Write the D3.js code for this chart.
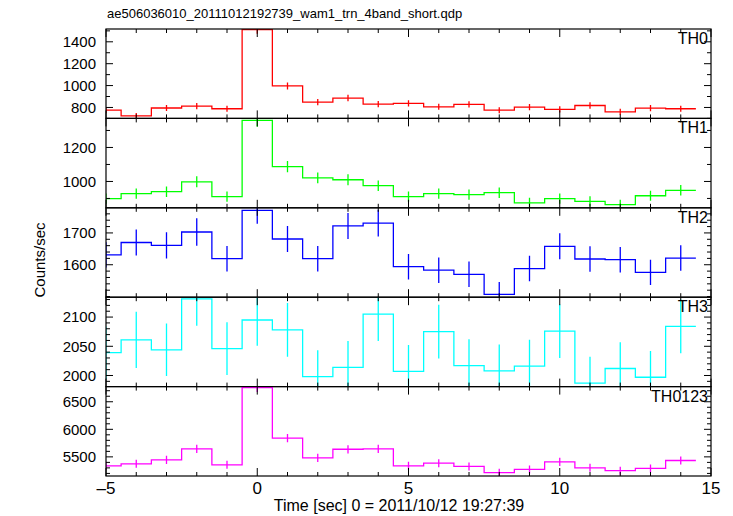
<!DOCTYPE html>
<html><head><meta charset="utf-8">
<script src="https://cdn.jsdelivr.net/npm/d3@7"></script>
<style>
body{margin:0;background:#fff}
text{font-family:"Liberation Sans",Arial,Helvetica,sans-serif;fill:#000}
</style>
</head><body>
<svg id="chart" width="733" height="516"></svg>
<script>
// ---- data ----
const title = "ae506036010_20111012192739_wam1_trn_4band_short.qdp";
const xLabel = "Time [sec] 0 = 2011/10/12 19:27:39";
const yLabel = "Counts/sec";
const timeBins = [-5,-4,-3,-2,-1,0,1,2,3,4,5,6,7,8,9,10,11,12,13,14];
const xTickLabels = [-5,0,5,10,15];

const th0 = [775,723,795,812,788,1512,997,849,886,831,837,806,828,775,803,782,818,760,794,788];
const th0Err = [28,27,28,29,28,38,32,29,30,29,29,28,29,28,28,28,29,28,28,28];
const th1 = [899,928,940,998,911,1359,1087,1021,1010,975,911,928,922,934,874,899,883,864,916,948];
const th1Err = [30,30,31,32,30,37,33,32,32,31,30,30,30,31,30,30,30,29,30,31];
const th2 = [1631,1670,1661,1703,1619,1771,1681,1619,1722,1731,1594,1583,1570,1507,1588,1658,1618,1616,1576,1621];
const th2Err = [40,41,41,43,40,42,41,40,41,42,40,40,40,39,40,41,40,40,40,40];
const th3 = [2039,2061,2044,2131,2046,2095,2078,1998,2014,2105,2007,2075,2017,2008,2016,2076,1987,2012,1997,2084];
const th3Err = [45,48,45,46,45,44,46,45,45,46,45,46,45,45,45,46,45,45,45,46];
const th0123 = [5338,5374,5446,5644,5356,6757,5841,5482,5638,5644,5338,5386,5326,5213,5272,5410,5302,5249,5290,5434];
const th0123Err = [73,73,74,75,73,82,76,74,75,75,73,73,73,72,73,74,73,72,73,74];

const panelNames = ["TH0","TH1","TH2","TH3","TH0123"];
const panelColors = ["#ff0000","#00ff00","#0000ff","#00ffff","#ff00ff"];
const panelValues = [th0, th1, th2, th3, th0123];
const panelErrors = [th0Err, th1Err, th2Err, th3Err, th0123Err];
const panelDomains = [[700,1517],[845,1371],[1498,1779],[1981,2134],[5153,6775]];
const panelMajorTicks = [[800,1000,1200,1400],[1000,1200],[1600,1700],[2000,2050,2100],[5500,6000,6500]];
const panelMinorStep = [100,100,20,10,100];

// ---- layout ----
const L = 106, R = 711, T = 29, B = 476;
const nP = panelNames.length;
const pH = (B - T) / nP;

const svg = d3.select("#chart");
const x = d3.scaleLinear().domain([-5, 15]).range([L, R]);

svg.append("text").attr("x", 107).attr("y", 18).attr("font-size", 13).text(title);

panelNames.forEach((name, i) => {
  const top = T + i * pH, bot = top + pH;
  const y = d3.scaleLinear().domain(panelDomains[i]).range([bot, top]);
  const g = svg.append("g");
  const cid = "clip" + i;
  svg.append("clipPath").attr("id", cid).append("rect")
    .attr("x", L).attr("y", top).attr("width", R - L).attr("height", pH);

  const vals = panelValues[i], errs = panelErrors[i], col = panelColors[i];
  const pts = [];
  timeBins.forEach((t, k) => { pts.push([t - 0.5, vals[k]]); pts.push([t + 0.5, vals[k]]); });
  const line = d3.line().x(d => x(d[0])).y(d => y(d[1]));
  const dg = g.append("g").attr("clip-path", `url(#${cid})`);
  dg.append("path").attr("d", line(pts)).attr("fill", "none")
    .attr("stroke", col).attr("stroke-width", 1.3);
  dg.selectAll("line.err").data(timeBins).join("line")
    .attr("x1", t => x(t)).attr("x2", t => x(t))
    .attr("y1", (t, k) => y(vals[k] - errs[k])).attr("y2", (t, k) => y(vals[k] + errs[k]))
    .attr("stroke", col).attr("stroke-width", 1.3);

  // x ticks (top & bottom, inward)
  const xt = d3.range(-5, 16, 1);
  xt.forEach(t => {
    const len = (t % 5 === 0) ? 8 : 4;
    g.append("line").attr("x1", x(t)).attr("x2", x(t)).attr("y1", bot).attr("y2", bot - len)
      .attr("stroke", "#000").attr("stroke-width", 1);
    g.append("line").attr("x1", x(t)).attr("x2", x(t)).attr("y1", top).attr("y2", top + len)
      .attr("stroke", "#000").attr("stroke-width", 1);
  });
  // y ticks
  const [d0, d1] = panelDomains[i];
  const st = panelMinorStep[i];
  const minor = d3.range(Math.ceil(d0 / st) * st, d1 + 0.001, st);
  const major = panelMajorTicks[i];
  minor.forEach(v => {
    const len = major.includes(v) ? 7 : 4;
    g.append("line").attr("x1", L).attr("x2", L + len).attr("y1", y(v)).attr("y2", y(v))
      .attr("stroke", "#000").attr("stroke-width", 1);
    g.append("line").attr("x1", R).attr("x2", R - len).attr("y1", y(v)).attr("y2", y(v))
      .attr("stroke", "#000").attr("stroke-width", 1);
  });
  major.forEach(v => {
    g.append("text").attr("x", 96).attr("y", y(v)).attr("dy", "0.36em")
      .attr("text-anchor", "end").attr("font-size", 15).text(v);
  });
  // frame
  g.append("rect").attr("x", L).attr("y", top).attr("width", R - L).attr("height", pH)
    .attr("fill", "none").attr("stroke", "#000").attr("stroke-width", 1.2);
  // panel label
  g.append("text").attr("x", 708).attr("y", top + 15).attr("text-anchor", "end")
    .attr("font-size", 16).text(name);
});

xTickLabels.forEach(t => {
  svg.append("text").attr("x", x(t)).attr("y", 494).attr("text-anchor", "middle")
    .attr("font-size", 17).text(t < 0 ? "\u2013" + Math.abs(t) : t);
});
svg.append("text").attr("x", 399).attr("y", 511).attr("text-anchor", "middle")
  .attr("font-size", 16).text(xLabel);
svg.append("text").attr("transform", "translate(45,260) rotate(-90)")
  .attr("text-anchor", "middle").attr("font-size", 15).text(yLabel);
</script>
</body></html>
